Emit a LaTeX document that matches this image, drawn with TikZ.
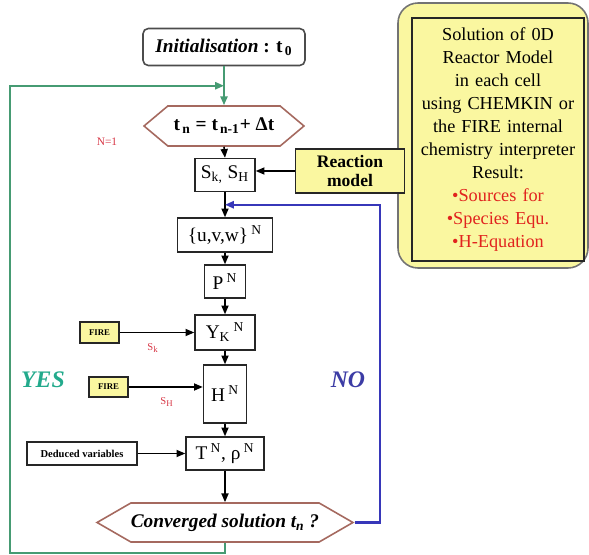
\documentclass[tikz,border=0pt]{standalone}
\usepackage{fontspec}
\setmainfont{Liberation Serif}
\usetikzlibrary{shapes.symbols, arrows.meta, positioning, calc}
\definecolor{loopGreen}{RGB}{70, 155, 115}
\definecolor{yesGreen}{RGB}{35, 170, 140}
\definecolor{loopBlue}{RGB}{55, 55, 185}
\definecolor{noBlue}{RGB}{60, 60, 165}
\definecolor{hexBrown}{RGB}{165, 105, 95}
\definecolor{noteYellow}{RGB}{250, 247, 160}
\definecolor{noteRed}{RGB}{225, 35, 30}
\definecolor{tagRed}{RGB}{215, 55, 70}
\tikzset{
  varbox/.style={
    rectangle, draw=black!85, line width=0.8pt,
    fill=white, inner sep=0pt,
    font=\fontsize{11}{13}\selectfont
  },
  startbox/.style={
    rectangle, rounded corners=3pt,
    draw=black!70, line width=0.9pt,
    fill=white, inner sep=0pt,
    font=\fontsize{11}{13}\selectfont\bfseries
  },
  hexbox/.style={
    signal, signal to=west and east,
    draw=hexBrown, line width=0.9pt,
    fill=white, inner sep=0pt,
    font=\fontsize{11}{13}\selectfont\bfseries
  },
  firebox/.style={
    rectangle, draw=black!85, line width=0.8pt,
    fill=noteYellow, inner sep=0pt,
    font=\fontsize{5}{6}\selectfont\bfseries
  },
  panelbox/.style={
    rectangle, rounded corners=4mm,
    draw=black!55, line width=0.9pt,
    fill=noteYellow, inner sep=0pt
  },
  notebox/.style={
    rectangle, draw=black!85, line width=0.7pt,
    fill=noteYellow, inner sep=0pt, align=center,
    font=\fontsize{10.4}{13.1}\selectfont
  },
  tag/.style={text=tagRed, inner sep=0pt, font=\fontsize{6}{7}\selectfont},
  loopword/.style={inner sep=0pt, font=\fontsize{13.5}{15}\selectfont\bfseries\itshape},
  myarrow/.style={-{Triangle[length=5pt, width=4pt]}, line width=0.9pt, black},
  yesline/.style={line width=1.2pt, color=loopGreen},
  noline/.style={line width=1.3pt, color=loopBlue}
}

\begin{document}
\begin{tikzpicture}[x=0.2mm, y=-0.2mm]

\useasboundingbox (0,0) rectangle (589,555);

\def\colX{225}

%% SIDE PANEL
\node[panelbox, minimum width=38mm, minimum height=53mm] (panel) at (493,135.5) {};
\node[notebox, text width=34.4mm, minimum height=48.6mm] (chemnote) at (498,139.5) {
  Solution of 0D\\
  Reactor Model\\
  in each cell\\
  using CHEMKIN or\\
  the FIRE internal\\
  chemistry interpreter\\
  Result:\\
  \textcolor{noteRed}{\textbullet Sources for}\\
  \textcolor{noteRed}{\textbullet Species Equ.}\\
  \textcolor{noteRed}{\textbullet H-Equation}
};

%% MAIN COLUMN
\node[startbox, minimum width=32.4mm, minimum height=7.4mm] (init) at (224,47) {
  \textit{Initialisation} : t\textsubscript{\,0}
};
\node[hexbox, signal pointer angle=80, minimum width=32mm, minimum height=8mm] (tstep) at (224,126) {
  t\textsubscript{\,n} = t\textsubscript{\,n-1}+ Δt
};
\node[varbox, minimum width=12mm, minimum height=6.6mm] (source) at (\colX,175) {
  S\textsubscript{k,} S\textsubscript{H}
};
\node[varbox, minimum width=19mm, minimum height=6.8mm] (velocity) at (\colX,235) {
  \{u,v,w\}\,\textsuperscript{N}
};
\node[varbox, minimum width=8.2mm, minimum height=6.6mm] (pressure) at (\colX,281.5) {
  P\,\textsuperscript{N}
};
\node[varbox, minimum width=12mm, minimum height=7mm] (species) at (\colX,332.5) {
  Y\textsubscript{K}\,\textsuperscript{N}
};
\node[varbox, minimum width=8.6mm, minimum height=11.6mm] (enthalpy) at (\colX,394) {
  H\,\textsuperscript{N}
};
\node[varbox, minimum width=15.6mm, minimum height=6.6mm] (state) at (\colX,453.5) {
  T\,\textsuperscript{N}, ρ\,\textsuperscript{N}
};
\node[hexbox, font=\fontsize{11}{13}\selectfont\bfseries\itshape, signal pointer angle=60,
  minimum width=49mm, minimum height=7.8mm] (converged) at (\colX,522.5) {
  Converged solution t\textsubscript{n} ?
};

%% INPUTS
\node[firebox, font=\fontsize{10}{11}\selectfont\bfseries, align=center,
  minimum width=21.8mm, minimum height=8.8mm] (reaction) at (350,171) {
  Reaction\\model
};
\node[firebox, minimum width=7.8mm, minimum height=4.2mm] (fireK) at (99.5,332.5) {FIRE};
\node[firebox, minimum width=7.8mm, minimum height=4mm] (fireH) at (108.5,387) {FIRE};
\node[firebox, fill=white, font=\fontsize{6}{7}\selectfont\bfseries,
  minimum width=22mm, minimum height=4.6mm] (deduced) at (82,453.5) {Deduced variables};

%% LABELS
\node[tag, font=\fontsize{6.5}{7}\selectfont] (nstart) at (107,142) {N=1};
\node[tag] (skflux) at (153,348) {S\textsubscript{k}};
\node[tag] (shflux) at (167,402) {S\textsubscript{H}};
\node[loopword, text=yesGreen] (yes) at (43,380) {YES};
\node[loopword, text=noBlue] (no) at (348,380) {NO};

%% ARROWS
\draw[myarrow] (tstep.south) -- (source.north);
\draw[myarrow] (source.south) -- (velocity.north);
\draw[myarrow] (velocity.south) -- (pressure.north);
\draw[myarrow] (pressure.south) -- (species.north);
\draw[myarrow] (species.south) -- (enthalpy.north);
\draw[myarrow] (enthalpy.south) -- (state.north);
\draw[myarrow] (state.south) -- (converged.north);

\draw[myarrow] (reaction.west) -- (reaction.west -| source.east);
\draw[myarrow] (fireK.east) -- (species.west);
\draw[myarrow] (fireH.east) -- (fireH.east -| enthalpy.west);
\draw[myarrow] (deduced.east) -- (state.west);

% converged -> next time step
\coordinate (yesjoin) at ($(init.south)!0.5!(tstep.north)$);
\coordinate (yescorner) at (10,553);
\draw[yesline, -{Triangle[length=5pt, width=4pt]}] (init.south) -- (tstep.north);
\draw[yesline, -{Triangle[length=5pt, width=4pt]}] (converged.south) |- (yescorner) |- (yesjoin);

% not converged -> iterate again
\coordinate (nojoin) at ($(source.south)!0.5!(velocity.north)$);
\coordinate (noturn) at (380,0);
\draw[noline, -{Triangle[length=5pt, width=4pt]}] (converged.east) -| (noturn |- nojoin) -- (nojoin);

\end{tikzpicture}
\end{document}
